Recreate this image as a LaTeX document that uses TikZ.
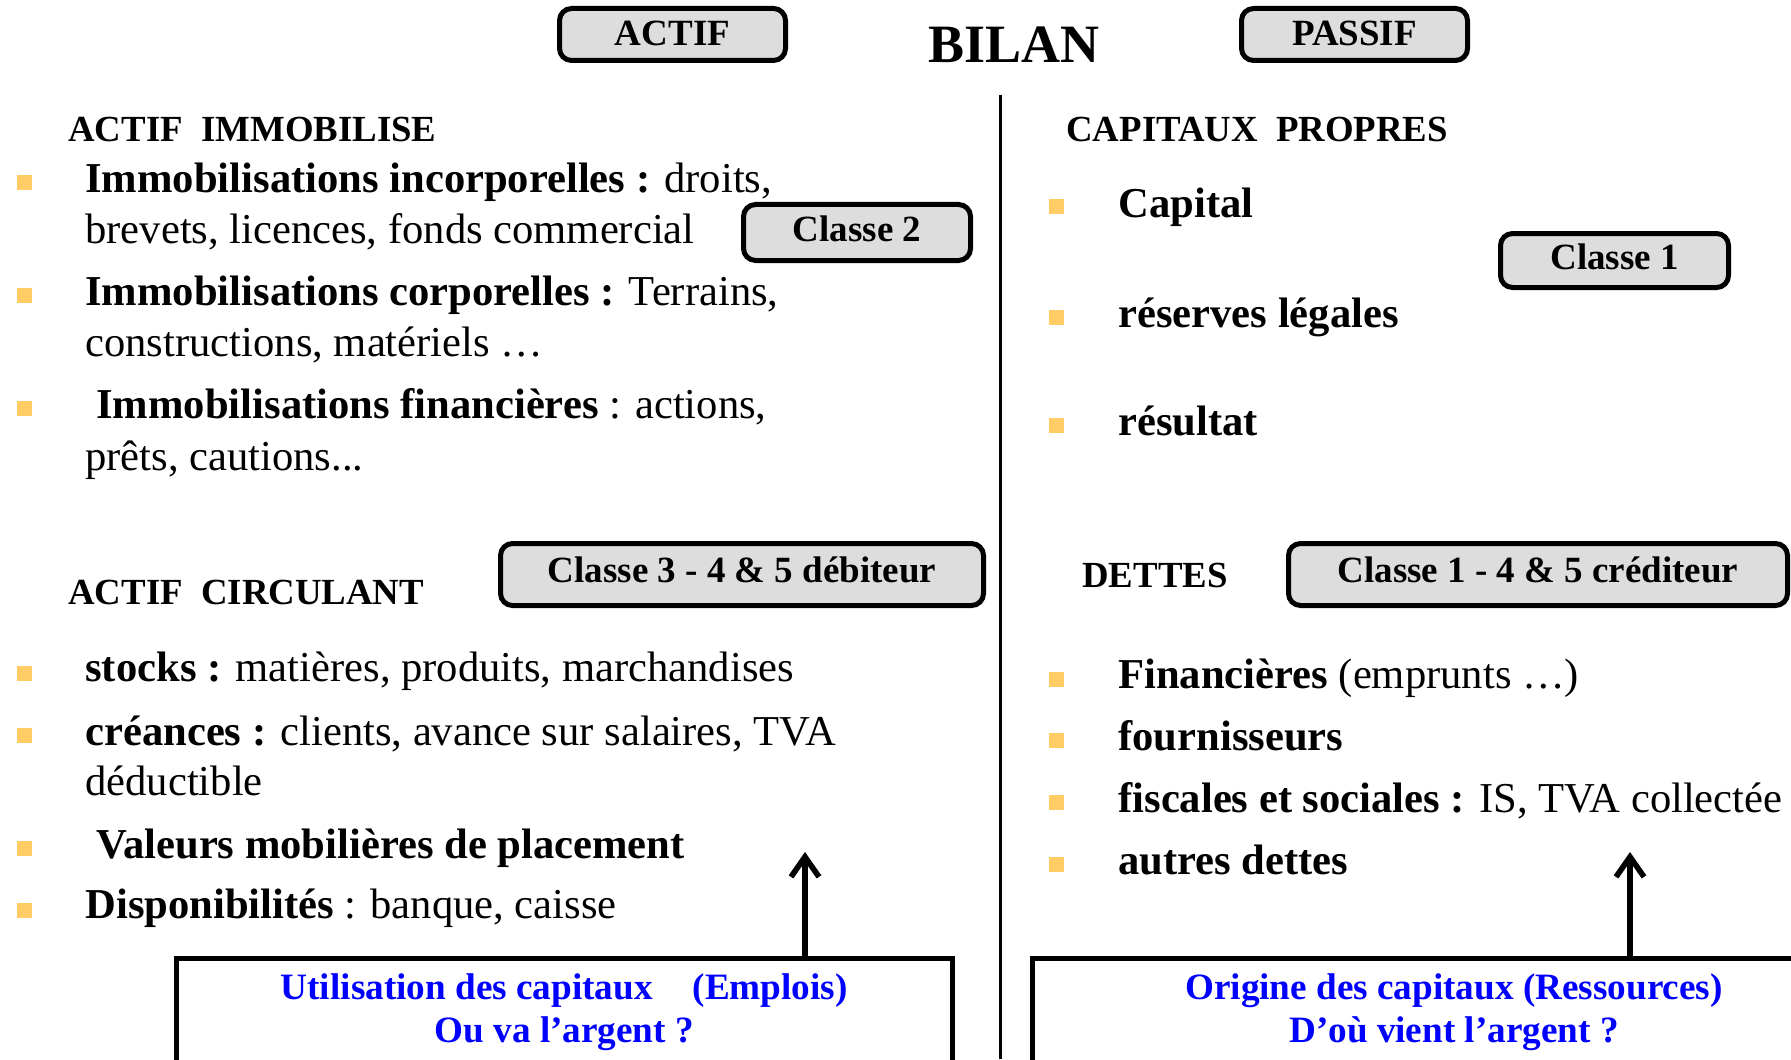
\documentclass[tikz,border=0pt]{standalone}
\usepackage{fontspec}
\setmainfont{Liberation Serif}
\usetikzlibrary{arrows.meta}
\definecolor{jaune}{HTML}{FFCC66}
\definecolor{gris}{HTML}{DDDDDD}
\definecolor{bleu}{HTML}{0000FF}

\begin{document}
\begin{tikzpicture}[x=0.5pt, y=-0.5pt,
    classe/.style={draw, line width=2.5pt, rounded corners=6pt, fill=gris, inner sep=0pt, text depth=3.5pt, font=\bfseries\fontsize{18.5}{22}\selectfont},
    titre/.style={anchor=base west, inner sep=0pt, font=\bfseries\fontsize{18.4}{22}\selectfont},
    ligne/.style={anchor=base west, inner sep=0pt, font=\fontsize{21.3}{25}\selectfont},
    carre/.style={fill=jaune, minimum size=7.5pt, inner sep=0pt},
    cadre/.style={draw, line width=2.5pt, anchor=north, align=center, inner xsep=0pt, inner ysep=8pt, text=bleu, font=\bfseries\fontsize{18.6}{21.5}\selectfont},
    fleche/.style={line width=2.8pt, -{Straight Barb[length=10pt,width=14pt]}}]

    \clip (0,0) rectangle (1791,1059);

    \node[font=\bfseries\fontsize{27}{30}\selectfont] (bilan) at (1014,45) {BILAN};
    \node[classe, text depth=1.5pt, minimum width=113pt, minimum height=26pt] (actif) at (672.5,34.5) {ACTIF};
    \node[classe, text depth=1.5pt, minimum width=113pt, minimum height=26pt] (passif) at (1354.5,34.5) {PASSIF};

    \draw[line width=1.5pt] (1000,95) -- (1000,1059);

    % actif
    \node[titre] (immo) at (68,142) {ACTIF\ \ IMMOBILISE};
    \node[ligne] (l1) at (85,193) {\textbf{Immobilisations incorporelles :} droits,};
    \node[ligne] (l2) at (85,243) {brevets, licences, fonds commercial};
    \node[ligne] (l3) at (85,305) {\textbf{Immobilisations corporelles :} Terrains,};
    \node[ligne] (l4) at (85,356) {constructions, matériels …};
    \node[ligne] (l5) at (96,418) {\textbf{Immobilisations financières} : actions,};
    \node[ligne] (l6) at (85,470) {prêts, cautions...};
    \node[classe, minimum width=113.5pt, minimum height=28pt] (cl2) at (857,232.5) {Classe 2};

    \node[titre] (circ) at (68,604) {ACTIF\ \ CIRCULANT};
    \node[classe, text depth=5pt, minimum width=241.5pt, minimum height=31pt] (cl3) at (742,574.5) {Classe 3 - 4 \& 5 débiteur};
    \node[ligne] (l7) at (85,681.5) {\textbf{stocks :} matières, produits, marchandises};
    \node[ligne] (l8) at (85,745) {\textbf{créances :} clients, avance sur salaires, TVA};
    \node[ligne] (l9) at (85,795) {déductible};
    \node[ligne] (l10) at (96,858.5) {\textbf{Valeurs mobilières de placement}};
    \node[ligne] (l11) at (85,918.5) {\textbf{Disponibilités} : banque, caisse};

    \foreach \y in {183,295,408,673,735,848,910}
        \node[carre] (pg\y) at (24,\y) {};

    % passif
    \node[titre] (cap) at (1066,142) {CAPITAUX\ \ PROPRES};
    \node[ligne] (r1) at (1118,218) {\textbf{Capital}};
    \node[ligne] (r2) at (1118,327) {\textbf{réserves légales}};
    \node[ligne] (r3) at (1118,435) {\textbf{résultat}};
    \node[classe, minimum width=114pt, minimum height=27pt] (cl1) at (1614.5,260.5) {Classe 1};

    \node[titre] (dettes) at (1082,587) {DETTES};
    \node[classe, text depth=5pt, minimum width=249.5pt, minimum height=31pt] (cl145) at (1538,574.5) {Classe 1 - 4 \& 5 créditeur};
    \node[ligne] (r4) at (1118,688) {\textbf{Financières} (emprunts …)};
    \node[ligne] (r5) at (1118,750) {\textbf{fournisseurs}};
    \node[ligne] (r6) at (1118,812) {\textbf{fiscales et sociales :} IS, TVA collectée};
    \node[ligne] (r7) at (1118,874) {\textbf{autres dettes}};

    \foreach \y in {207,317,425,679,740,802,864}
        \node[carre] (pd\y) at (1056,\y) {};

    % emplois / ressources
    \node[cadre, minimum width=388pt] (emplois) at (564.25,955.5) {Utilisation des capitaux\hspace{20pt}(Emplois)\\Ou va l’argent ?};
    \node[cadre, minimum width=421.5pt] (ressources) at (1454,955.5) {Origine des capitaux (Ressources)\\D’où vient l’argent ?};

    \coordinate (pointeG) at (805,852);
    \coordinate (pointeD) at (1630,852);
    \draw[fleche] (emplois.north -| pointeG) -- (pointeG);
    \draw[fleche] (ressources.north -| pointeD) -- (pointeD);

\end{tikzpicture}
\end{document}
